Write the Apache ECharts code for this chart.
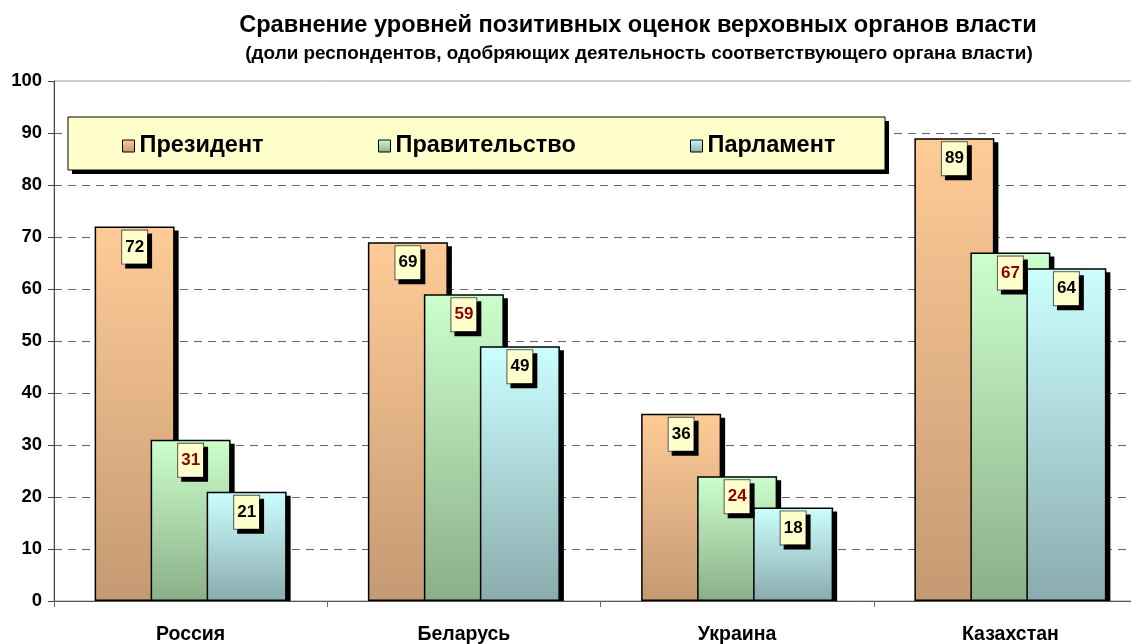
<!DOCTYPE html>
<html>
<head>
<meta charset="utf-8">
<script src="https://cdn.jsdelivr.net/npm/echarts@6/dist/echarts.min.js"></script>
<style>
html,body{margin:0;padding:0;background:#fff;}
#chart{width:1131px;height:644px;}
</style>
</head>
<body>
<div id="chart"></div>
<script>
const categories = ['Россия', 'Беларусь', 'Украина', 'Казахстан'];
const seriesNames = ['Президент', 'Правительство', 'Парламент'];
const president = [72, 69, 36, 89];
const government = [31, 59, 24, 67];
const parliament = [21, 49, 18, 64];

const FONT = "'Liberation Sans', Arial, sans-serif";
function grad(top, bottom) {
  return new echarts.graphic.LinearGradient(0, 0, 0, 1, [
    {offset: 0, color: top}, {offset: 1, color: bottom}
  ]);
}
const palettes = [
  ['#FFCB97', '#C49A72'],
  ['#CCFFCC', '#8AAF88'],
  ['#CCFFFF', '#8AABAD']
];
const labelColors = ['#000000', '#8B0000', '#000000'];
const dataSets = [president, government, parliament];

const BAR_W = 80, STEP = 56, SH = 4;

const chart = echarts.init(document.getElementById('chart'));

// shadow layers (drawn below bars, clipped to the plot area)
const shadowSeries = dataSets.map((d, i) => ({
  name: seriesNames[i] + '_shadow',
  type: 'custom',
  clip: true,
  z: 1,
  silent: true,
  data: d.map((v, k) => [k, v]),
  renderItem: function (params, api) {
    const top = api.coord([api.value(0), api.value(1)]);
    const base = api.coord([api.value(0), 0]);
    const x0 = top[0] - (BAR_W + 2 * STEP) / 2 + i * STEP;
    return {
      type: 'rect',
      shape: {x: x0 + SH, y: top[1] + SH, width: BAR_W, height: base[1] - top[1]},
      style: {fill: '#000'}
    };
  }
}));

const barSeries = dataSets.map((d, i) => ({
  name: seriesNames[i],
  type: 'bar',
  data: d,
  barWidth: BAR_W,
  barGap: '-30%',
  z: 2,
  itemStyle: {
    color: grad(palettes[i][0], palettes[i][1]),
    borderColor: '#000',
    borderWidth: 1.5
  },
  label: {
    show: true,
    position: 'insideTop',
    distance: 4,
    fontFamily: FONT,
    fontWeight: 'bold',
    fontSize: 17,
    lineHeight: 17,
    color: labelColors[i],
    backgroundColor: '#FFFFCC',
    borderColor: '#555',
    borderWidth: 1,
    padding: [8, 3, 8, 3],
    shadowColor: '#000',
    shadowOffsetX: 4,
    shadowOffsetY: 4,
    shadowBlur: 0
  },
  emphasis: {disabled: true}
}));

const legendLefts = [122, 378, 690];
const legends = seriesNames.map((n, i) => ({
  data: [{name: n, icon: 'rect'}],
  left: legendLefts[i],
  top: 134,
  padding: 0,
  itemWidth: 12,
  itemHeight: 12,
  itemGap: 5,
  z: 12,
  itemStyle: {borderColor: '#000', borderWidth: 1},
  textStyle: {fontFamily: FONT, fontWeight: 'bold', fontSize: 23.5, color: '#000'},
  selectedMode: false
}));

chart.setOption({
  animation: false,
  backgroundColor: '#fff',
  title: [
    {
      text: 'Сравнение уровней позитивных оценок верховных органов власти',
      left: 633, textAlign: 'center', top: 8,
      textStyle: {fontFamily: FONT, fontWeight: 'bold', fontSize: 23.6, color: '#000'}
    },
    {
      text: '(доли респондентов, одобряющих деятельность соответствующего органа власти)',
      left: 634, textAlign: 'center', top: 39,
      textStyle: {fontFamily: FONT, fontWeight: 'bold', fontSize: 18.9, color: '#000'}
    }
  ],
  graphic: [
    {
      type: 'rect',
      shape: {x: 68 + 4, y: 117 + 4, width: 817, height: 53},
      style: {fill: '#000'},
      z: 10, silent: true
    },
    {
      type: 'rect',
      shape: {x: 68, y: 117, width: 817, height: 53},
      style: {fill: '#FFFFCC', stroke: '#000', lineWidth: 1},
      z: 11, silent: true
    }
  ],
  legend: legends,
  grid: {
    left: 54, right: -16, top: 81, bottom: 43,
    containLabel: false,
    outerBoundsMode: 'none',
    show: true, borderColor: '#999', borderWidth: 1, backgroundColor: 'transparent'
  },
  xAxis: {
    type: 'category',
    data: categories,
    axisLine: {lineStyle: {color: '#555', width: 1}},
    axisTick: {show: true, length: 6, lineStyle: {color: '#666'}},
    axisLabel: {fontFamily: FONT, fontWeight: 'bold', fontSize: 19.5, color: '#000', margin: 24}
  },
  yAxis: {
    type: 'value',
    min: 0, max: 100, interval: 10,
    axisLine: {show: true, lineStyle: {color: '#444', width: 1}},
    axisTick: {show: true, length: 6, lineStyle: {color: '#444'}},
    axisLabel: {fontFamily: FONT, fontWeight: 'bold', fontSize: 18.5, color: '#000', margin: 12},
    splitLine: {show: true, showMaxLine: false, showMinLine: false, lineStyle: {color: '#666', type: [8, 6], width: 1}}
  },
  series: shadowSeries.concat(barSeries)
});
</script>
</body>
</html>
